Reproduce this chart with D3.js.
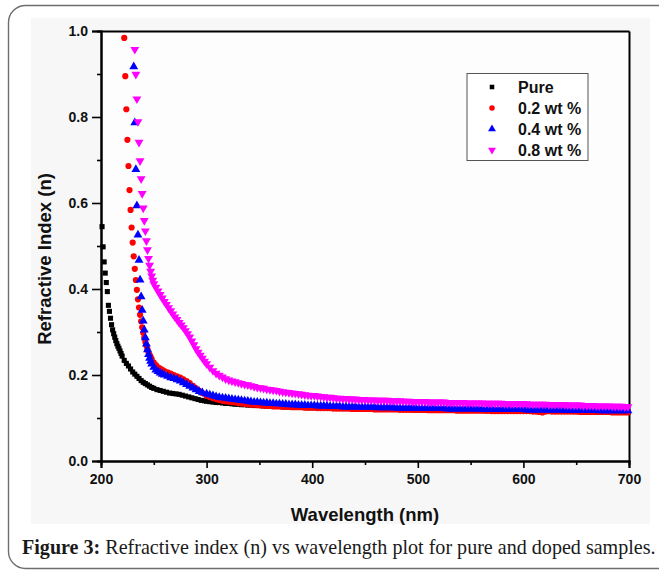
<!DOCTYPE html>
<html>
<head>
<meta charset="utf-8">
<script src="https://cdn.jsdelivr.net/npm/d3@7"></script>
<style>
  body { margin: 0; background: #fff; }
  svg { display: block; }
</style>
</head>
<body>
<svg id="chart" width="659" height="572"></svg>
<script>
// ---- data ---------------------------------------------------------------
const seriesNames = ["Pure", "0.2 wt %", "0.4 wt %", "0.8 wt %"];

const xTicks = [200, 300, 400, 500, 600, 700];
const xMinorTicks = [250, 350, 450, 550, 650];
const yTicks = [0.0, 0.2, 0.4, 0.6, 0.8, 1.0];
const yMinorTicks = [0.1, 0.3, 0.5, 0.7, 0.9];

// short-wavelength part of each curve: [wavelength (nm), n]
const pureHead = [
  [201,0.545],[202,0.498],[203,0.463],[204,0.437],[205,0.415],[206,0.394],[207,0.362],[208,0.348],
  [209,0.332],[210,0.317],[211,0.305],[212,0.296],[213,0.288],[214,0.280],[215,0.273],[216,0.267],
  [217,0.262],[218,0.256],[219,0.250],[220,0.244],[222,0.234],[224,0.227],[226,0.221],[228,0.214],
  [230,0.207],[232,0.202],[234,0.197],[236,0.192],[238,0.187],[240,0.183],[242,0.180],[244,0.177],
  [246,0.174],[248,0.171],[250,0.169],[253,0.166],[256,0.164],[259,0.162],[262,0.160],[265,0.158],
  [268,0.157],[271,0.156],[274,0.155],[277,0.153],[280,0.151],[283,0.149],[286,0.147],[289,0.145],
  [292,0.143],[295,0.141],[298,0.140],[300,0.139]
];
const wt02Head = [
  [222,0.984],[223,0.895],[224,0.818],[225,0.747],[226,0.686],[227,0.630],[228,0.584],[229,0.543],
  [230,0.508],[231,0.476],[232,0.447],[233,0.421],[234,0.398],[235,0.376],[236,0.357],[237,0.340],
  [238,0.325],[239,0.311],[240,0.298],[241,0.287],[242,0.277],[243,0.268],[244,0.260],[245,0.253],
  [246,0.247],[247,0.242],[248,0.237],[250,0.229],[252,0.223],[254,0.218],[256,0.215],[258,0.212],
  [260,0.209],[263,0.206],[266,0.203],[269,0.200],[272,0.197],[275,0.194],[278,0.190],[281,0.186],
  [284,0.181],[287,0.175],[290,0.169],[293,0.163],[296,0.158],[300,0.152]
];
const wt04Head = [
  [231,0.917],[232,0.787],[233,0.678],[234,0.594],[235,0.526],[236,0.467],[237,0.421],[238,0.382],
  [239,0.351],[240,0.326],[241,0.305],[242,0.287],[243,0.272],[244,0.259],[245,0.248],[246,0.239],
  [247,0.232],[248,0.226],[250,0.218],[252,0.212],[254,0.208],[256,0.205],[258,0.202],[260,0.200],
  [263,0.197],[266,0.194],[269,0.192],[272,0.189],[275,0.186],[278,0.182],[281,0.178],[284,0.174],
  [287,0.170],[290,0.166],[293,0.162],[296,0.159],[300,0.156]
];
const wt08Head = [
  [232,0.957],[233,0.899],[234,0.842],[235,0.789],[236,0.741],[237,0.698],[238,0.656],[239,0.622],
  [240,0.588],[241,0.559],[242,0.535],[243,0.512],[244,0.491],[245,0.471],[246,0.455],[247,0.441],
  [248,0.430],[249,0.420],[250,0.412],[252,0.404],[254,0.395],[256,0.387],[258,0.379],[260,0.371],
  [262,0.364],[264,0.356],[266,0.349],[268,0.342],[270,0.335],[272,0.329],[274,0.322],[276,0.316],
  [278,0.310],[280,0.303],[282,0.296],[284,0.288],[286,0.279],[288,0.270],[290,0.261],[292,0.253],
  [294,0.246],[296,0.239],[298,0.232],[300,0.226]
];

// long-wavelength part, sampled every 3 nm on a shared grid
const tailWavelengths = [
  303,306,309,312,315,318,321,324,327,330,
  333,336,339,342,345,348,351,354,357,360,
  363,366,369,372,375,378,381,384,387,390,
  393,396,399,402,405,408,411,414,417,420,
  423,426,429,432,435,438,441,444,447,450,
  453,456,459,462,465,468,471,474,477,480,
  483,486,489,492,495,498,501,504,507,510,
  513,516,519,522,525,528,531,534,537,540,
  543,546,549,552,555,558,561,564,567,570,
  573,576,579,582,585,588,591,594,597,600,
  603,606,609,612,615,618,621,624,627,630,
  633,636,639,642,645,648,651,654,657,660,
  663,666,669,672,675,678,681,684,687,690,
  693,696,699
];
const pureTail = [
  0.138,0.137,0.136,0.136,0.135,0.134,0.134,0.133,0.132,0.132,
  0.131,0.131,0.130,0.130,0.129,0.129,0.129,0.128,0.128,0.128,
  0.127,0.127,0.127,0.126,0.126,0.126,0.126,0.125,0.125,0.125,
  0.125,0.124,0.124,0.124,0.124,0.124,0.123,0.123,0.123,0.123,
  0.123,0.123,0.122,0.122,0.122,0.122,0.122,0.122,0.121,0.121,
  0.121,0.121,0.121,0.121,0.121,0.120,0.120,0.120,0.120,0.120,
  0.120,0.120,0.120,0.120,0.119,0.119,0.119,0.119,0.119,0.119,
  0.119,0.119,0.119,0.119,0.119,0.118,0.118,0.118,0.118,0.118,
  0.118,0.118,0.118,0.118,0.118,0.118,0.118,0.117,0.117,0.117,
  0.117,0.117,0.117,0.117,0.117,0.117,0.117,0.117,0.117,0.117,
  0.117,0.116,0.116,0.116,0.116,0.116,0.116,0.116,0.116,0.116,
  0.116,0.116,0.116,0.116,0.116,0.115,0.115,0.115,0.115,0.115,
  0.115,0.115,0.115,0.115,0.115,0.115,0.115,0.115,0.115,0.114,
  0.114,0.114,0.114
];
const wt02Tail = [
  0.149,0.146,0.144,0.142,0.140,0.139,0.138,0.137,0.136,0.135,
  0.134,0.133,0.132,0.131,0.131,0.130,0.129,0.129,0.128,0.128,
  0.127,0.127,0.127,0.126,0.126,0.126,0.125,0.125,0.125,0.125,
  0.124,0.124,0.124,0.124,0.123,0.123,0.123,0.123,0.123,0.122,
  0.122,0.122,0.122,0.122,0.122,0.121,0.121,0.121,0.121,0.121,
  0.121,0.121,0.120,0.120,0.120,0.120,0.120,0.120,0.120,0.120,
  0.119,0.119,0.119,0.119,0.119,0.119,0.119,0.119,0.119,0.118,
  0.118,0.118,0.118,0.118,0.118,0.118,0.118,0.118,0.117,0.117,
  0.117,0.117,0.117,0.117,0.117,0.117,0.117,0.117,0.117,0.116,
  0.116,0.116,0.116,0.116,0.116,0.116,0.116,0.116,0.116,0.116,
  0.116,0.116,0.115,0.115,0.114,0.113,0.115,0.116,0.115,0.115,
  0.115,0.115,0.115,0.115,0.115,0.115,0.115,0.114,0.114,0.114,
  0.114,0.114,0.114,0.114,0.114,0.114,0.114,0.113,0.113,0.113,
  0.113,0.113,0.113
];
const wt04Tail = [
  0.154,0.152,0.150,0.148,0.147,0.146,0.145,0.144,0.143,0.142,
  0.141,0.140,0.139,0.138,0.137,0.137,0.136,0.135,0.135,0.134,
  0.134,0.133,0.133,0.132,0.132,0.131,0.131,0.131,0.130,0.130,
  0.130,0.129,0.129,0.129,0.128,0.128,0.128,0.128,0.127,0.127,
  0.127,0.127,0.126,0.126,0.126,0.126,0.126,0.125,0.125,0.125,
  0.125,0.125,0.125,0.124,0.124,0.124,0.124,0.124,0.124,0.123,
  0.123,0.123,0.123,0.123,0.123,0.123,0.122,0.122,0.122,0.122,
  0.122,0.122,0.122,0.122,0.122,0.121,0.121,0.121,0.121,0.121,
  0.121,0.121,0.121,0.121,0.121,0.121,0.120,0.120,0.120,0.120,
  0.120,0.120,0.120,0.120,0.120,0.120,0.120,0.120,0.120,0.120,
  0.119,0.119,0.119,0.119,0.119,0.119,0.119,0.119,0.119,0.119,
  0.119,0.119,0.118,0.118,0.118,0.118,0.118,0.118,0.118,0.118,
  0.118,0.118,0.118,0.117,0.117,0.117,0.117,0.117,0.117,0.117,
  0.117,0.117,0.117
];
const wt08Tail = [
  0.218,0.210,0.204,0.199,0.195,0.191,0.188,0.186,0.184,0.182,
  0.180,0.178,0.177,0.175,0.173,0.171,0.170,0.169,0.167,0.166,
  0.165,0.164,0.162,0.161,0.160,0.159,0.158,0.157,0.156,0.155,
  0.154,0.153,0.152,0.152,0.151,0.150,0.149,0.148,0.148,0.147,
  0.146,0.146,0.145,0.145,0.144,0.144,0.144,0.143,0.143,0.143,
  0.142,0.142,0.142,0.141,0.141,0.141,0.141,0.140,0.140,0.140,
  0.140,0.139,0.139,0.139,0.138,0.138,0.138,0.138,0.138,0.137,
  0.137,0.137,0.137,0.137,0.137,0.136,0.136,0.136,0.136,0.136,
  0.136,0.135,0.135,0.135,0.135,0.135,0.135,0.134,0.134,0.134,
  0.134,0.134,0.134,0.133,0.133,0.133,0.133,0.133,0.133,0.133,
  0.133,0.132,0.132,0.132,0.132,0.132,0.132,0.131,0.131,0.131,
  0.131,0.131,0.131,0.130,0.130,0.130,0.130,0.130,0.129,0.129,
  0.129,0.129,0.128,0.128,0.128,0.128,0.128,0.127,0.127,0.127,
  0.127,0.126,0.126
];

// ---- styling ------------------------------------------------------------
const seriesColors = ["#000000", "#ff0000", "#0000ff", "#ff00ff"];
const seriesShapes = [d3.symbolSquare, d3.symbolCircle, d3.symbolTriangle, d3.symbolTriangle];
const seriesSizes = [26, 30, 34, 34];
const seriesRotation = [0, 0, 0, 180];

const series = [
  { head: pureHead, tail: pureTail },
  { head: wt02Head, tail: wt02Tail },
  { head: wt04Head, tail: wt04Tail },
  { head: wt08Head, tail: wt08Tail }
].map((s, i) => ({
  name: seriesNames[i],
  points: s.head.map(([w, n]) => ({ w, n }))
    .concat(tailWavelengths.map((w, k) => ({ w, n: s.tail[k] })))
}));

// ---- layout -------------------------------------------------------------
const svg = d3.select("#chart");
const plot = { left: 101, right: 629, top: 31, bottom: 461 };

const x = d3.scaleLinear().domain([200, 700]).range([plot.left, plot.right]);
const y = d3.scaleLinear().domain([0, 1]).range([plot.bottom, plot.top]);

// figure frame
svg.append("rect")
  .attr("x", 8.5).attr("y", 5.5).attr("width", 700).attr("height", 563)
  .attr("rx", 17).attr("ry", 17)
  .attr("fill", "#fff").attr("stroke", "#6e6e6e").attr("stroke-width", 1.4);

// chart panel background
svg.append("rect")
  .attr("x", 31).attr("y", 18).attr("width", 619).attr("height", 506)
  .attr("fill", "#f7f7f7");
svg.append("rect")
  .attr("x", plot.left).attr("y", plot.top)
  .attr("width", plot.right - plot.left).attr("height", plot.bottom - plot.top)
  .attr("fill", "#fdfdfd");

const sansFont = "Liberation Sans, Arial, sans-serif";

function styleAxis(g) {
  g.select(".domain").attr("stroke", "#000").attr("stroke-width", 2);
  g.selectAll(".tick line").attr("stroke", "#000").attr("stroke-width", 1.6);
  g.selectAll(".tick text")
    .attr("fill", "#111")
    .style("font-family", sansFont)
    .style("font-weight", "bold")
    .style("font-size", "14px");
}

// bottom axis, minor + major
svg.append("g")
  .attr("transform", `translate(0,${plot.bottom})`)
  .call(d3.axisBottom(x).tickValues(xMinorTicks).tickSize(4).tickFormat(""))
  .call(styleAxis);
svg.append("g")
  .attr("transform", `translate(0,${plot.bottom})`)
  .call(d3.axisBottom(x).tickValues(xTicks).tickSize(7).tickPadding(6).tickFormat(d3.format("d")))
  .call(styleAxis);

// left axis, minor + major
svg.append("g")
  .attr("transform", `translate(${plot.left},0)`)
  .call(d3.axisLeft(y).tickValues(yMinorTicks).tickSize(4).tickFormat(""))
  .call(styleAxis);
svg.append("g")
  .attr("transform", `translate(${plot.left},0)`)
  .call(d3.axisLeft(y).tickValues(yTicks).tickSize(9).tickPadding(4).tickFormat(d3.format(".1f")))
  .call(styleAxis);

// top and right frame
svg.append("g")
  .attr("transform", `translate(0,${plot.top})`)
  .call(d3.axisTop(x).tickValues([]).tickSizeOuter(0))
  .call(styleAxis);
svg.append("g")
  .attr("transform", `translate(${plot.right},0)`)
  .call(d3.axisRight(y).tickValues([]).tickSizeOuter(0))
  .call(styleAxis);

// data markers
const marks = svg.append("g");
series.forEach((s, i) => {
  const sym = d3.symbol().type(seriesShapes[i]).size(seriesSizes[i]);
  marks.append("g")
    .selectAll("path")
    .data(s.points)
    .join("path")
    .attr("d", sym)
    .attr("transform", d => `translate(${x(d.w)},${y(d.n)}) rotate(${seriesRotation[i]})`)
    .attr("fill", seriesColors[i]);
});

// axis titles
svg.append("text")
  .attr("x", (plot.left + plot.right) / 2).attr("y", 521)
  .attr("text-anchor", "middle")
  .style("font-family", sansFont).style("font-weight", "bold").style("font-size", "18.5px")
  .attr("fill", "#111")
  .text("Wavelength (nm)");
svg.append("text")
  .attr("transform", "translate(51,259) rotate(-90)")
  .attr("text-anchor", "middle")
  .style("font-family", sansFont).style("font-weight", "bold").style("font-size", "18.5px")
  .attr("fill", "#111")
  .text("Refractive Index (n)");

// legend
const legend = svg.append("g");
legend.append("rect")
  .attr("x", 467).attr("y", 73.5).attr("width", 121).attr("height", 87)
  .attr("fill", "#fff").attr("stroke", "#555").attr("stroke-width", 1);
seriesNames.forEach((name, i) => {
  const ly = 87 + i * 21;
  legend.append("path")
    .attr("d", d3.symbol().type(seriesShapes[i]).size(seriesSizes[i] * 0.8)())
    .attr("transform", `translate(492,${ly}) rotate(${seriesRotation[i]})`)
    .attr("fill", seriesColors[i]);
  legend.append("text")
    .attr("x", 518).attr("y", ly + 5.5)
    .style("font-family", sansFont).style("font-weight", "bold").style("font-size", "16px")
    .attr("fill", "#111")
    .text(name);
});

// caption
const caption = svg.append("text")
  .attr("x", 22).attr("y", 554)
  .style("font-family", "Liberation Serif, Times New Roman, serif")
  .style("font-size", "18px")
  .attr("fill", "#1a1a1a");
caption.append("tspan").style("font-weight", "bold").text("Figure 3:");
caption.append("tspan").text(" Refractive index (n) vs wavelength plot for pure and doped samples.");
const capLen = caption.node().getComputedTextLength();
caption.style("font-size", (18 * 634 / capLen).toFixed(2) + "px");
</script>
</body>
</html>
